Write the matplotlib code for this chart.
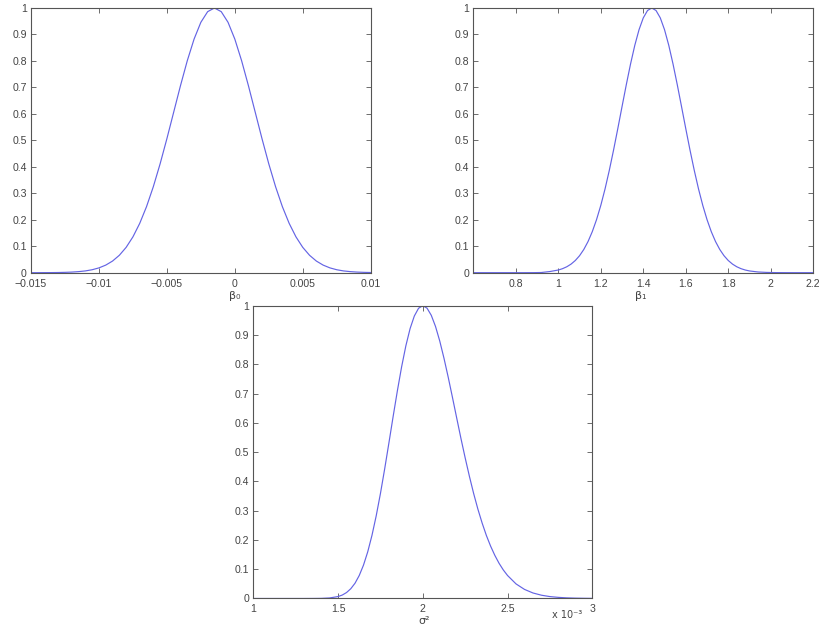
import matplotlib
matplotlib.use("Agg")
import matplotlib.pyplot as plt

plt.rcParams['font.family'] = ['Liberation Sans', 'DejaVu Sans']

# ---- data ----
# beta_0 posterior (normalised to peak = 1)
beta0_x = [-0.0150, -0.0145, -0.0140, -0.0135, -0.0130, -0.0125, -0.0120, -0.0115,
           -0.0110, -0.0105, -0.0100, -0.0095, -0.0090, -0.0085, -0.0080, -0.0075,
           -0.0070, -0.0065, -0.0060, -0.0055, -0.0050, -0.0045, -0.0040, -0.0035,
           -0.0030, -0.0025, -0.0020, -0.0015, -0.0010, -0.0005, 0.0000, 0.0005,
           0.0010, 0.0015, 0.0020, 0.0025, 0.0030, 0.0035, 0.0040, 0.0045,
           0.0050, 0.0055, 0.0060, 0.0065, 0.0070, 0.0075, 0.0080, 0.0085,
           0.0090, 0.0095, 0.0100]
beta0_y = [0.000, 0.000, 0.0002, 0.0003, 0.0006, 0.0012, 0.0022, 0.0039,
           0.0066, 0.0111, 0.0181, 0.0286, 0.0439, 0.0657, 0.0956, 0.1353,
           0.1863, 0.2494, 0.3247, 0.4111, 0.5063, 0.6065, 0.7066, 0.8007,
           0.8825, 0.9460, 0.9862, 1.000, 0.9862, 0.9460, 0.8825, 0.8007,
           0.7066, 0.6065, 0.5063, 0.4111, 0.3247, 0.2494, 0.1863, 0.1353,
           0.0956, 0.0657, 0.0439, 0.0286, 0.0181, 0.0111, 0.0066, 0.0039,
           0.0022, 0.0012, 0.0006]

# beta_1 posterior
beta1_x = [0.60, 0.64, 0.68, 0.72, 0.76, 0.80, 0.84, 0.88, 0.92, 0.96,
           1.00, 1.02, 1.04, 1.06, 1.08, 1.10, 1.12, 1.14, 1.16, 1.18,
           1.20, 1.22, 1.24, 1.26, 1.28, 1.30, 1.32, 1.34, 1.36, 1.38,
           1.40, 1.42, 1.44, 1.46, 1.48, 1.50, 1.52, 1.54, 1.56, 1.58,
           1.60, 1.62, 1.64, 1.66, 1.68, 1.70, 1.72, 1.74, 1.76, 1.78,
           1.80, 1.82, 1.84, 1.86, 1.88, 1.90,
           1.94, 1.98, 2.02, 2.06, 2.10, 2.14, 2.18, 2.20]
beta1_y = [0.0, 0.0, 0.0, 0.0, 0.0, 0.0, 0.0, 0.0001, 0.0006, 0.0042,
           0.0100, 0.0151, 0.0223, 0.0323, 0.0459, 0.0640, 0.0876, 0.1176, 0.1550, 0.2004,
           0.2541, 0.3163, 0.3863, 0.4628, 0.5440, 0.6275, 0.7100, 0.7883, 0.8588, 0.9180,
           0.9627, 0.9905, 1.000, 0.9905, 0.9627, 0.9180, 0.8588, 0.7883, 0.7100, 0.6275,
           0.5440, 0.4628, 0.3863, 0.3163, 0.2541, 0.2004, 0.1550, 0.1176, 0.0876, 0.0640,
           0.0459, 0.0323, 0.0223, 0.0151, 0.0100, 0.0065,
           0.0026, 0.0010, 0.0003, 0.0001, 0.0, 0.0, 0.0, 0.0]

# sigma^2 posterior (x in units of 1e-3)
sigma2_x = [1.00, 1.20, 1.30, 1.35, 1.40, 1.45, 1.50, 1.525, 1.55, 1.575,
            1.60, 1.625, 1.65, 1.675, 1.70, 1.725, 1.75, 1.775, 1.80, 1.825,
            1.85, 1.875, 1.90, 1.925, 1.95, 1.975, 2.00, 2.025, 2.05, 2.075,
            2.10, 2.125, 2.15, 2.175, 2.20, 2.225, 2.25, 2.275, 2.30, 2.325,
            2.35, 2.375, 2.40, 2.425, 2.45, 2.475, 2.50, 2.55, 2.60, 2.65,
            2.70, 2.75, 2.80, 2.85, 2.90, 2.95, 3.00]
sigma2_y = [0.0, 0.0, 0.0, 0.0001, 0.0004, 0.0018, 0.0066, 0.0118, 0.0203, 0.0333,
            0.0521, 0.0786, 0.1139, 0.1593, 0.2155, 0.2822, 0.3584, 0.4426, 0.5313, 0.6219,
            0.7095, 0.7913, 0.8630, 0.9218, 0.9648, 0.9913, 1.000, 0.9915, 0.9671, 0.9290,
            0.8792, 0.8203, 0.7554, 0.6866, 0.6163, 0.5466, 0.4801, 0.4171, 0.3584, 0.3051,
            0.2577, 0.2153, 0.1788, 0.1472, 0.1201, 0.0974, 0.0785, 0.0498, 0.0310, 0.0188,
            0.0112, 0.0065, 0.0038, 0.0021, 0.0012, 0.0007, 0.0004]

yticks = [0, 0.1, 0.2, 0.3, 0.4, 0.5, 0.6, 0.7, 0.8, 0.9, 1]
ytick_labels = ['0', '0.1', '0.2', '0.3', '0.4', '0.5', '0.6', '0.7', '0.8', '0.9', '1']
beta0_ticks = [-0.015, -0.01, -0.005, 0, 0.005, 0.01]
beta0_labels = ['\u22120.015', '\u22120.01', '\u22120.005', '0', '0.005', '0.01']
beta1_ticks = [0.8, 1.0, 1.2, 1.4, 1.6, 1.8, 2.0, 2.2]
beta1_labels = ['0.8', '1', '1.2', '1.4', '1.6', '1.8', '2', '2.2']
sigma2_ticks = [1, 1.5, 2, 2.5, 3]
sigma2_labels = ['1', '1.5', '2', '2.5', '3']

LINE = '#6464e4'
AX = '#555555'
TXT = '#444444'
LABEL_FONT = ['DejaVu Sans']

fig = plt.figure(figsize=(8.19, 6.35), dpi=100)
fig.patch.set_facecolor('white')


def style(ax, xt, xl, xlim):
    ax.set_xlim(*xlim)
    ax.set_ylim(0, 1)
    ax.set_xticks(xt)
    ax.set_xticklabels(xl)
    ax.set_yticks(yticks)
    ax.set_yticklabels(ytick_labels)
    ax.tick_params(direction='in', length=3.5, width=0.6, colors=AX,
                   labelcolor=TXT, labelsize=7.6, top=True, right=True)
    ax.tick_params(axis='x', pad=4.2)
    ax.tick_params(axis='y', pad=3.0)
    for s in ax.spines.values():
        s.set_color(AX)
        s.set_linewidth(0.8)


ax1 = fig.add_axes([0.0379, 0.5706, 0.4147, 0.4168])
ax1.plot(beta0_x, beta0_y, color=LINE, lw=0.85)
style(ax1, beta0_ticks, beta0_labels, (-0.015, 0.01))
ax1.set_xlabel('\u03b2\u2080', fontsize=8, color=TXT, family=LABEL_FONT)
ax1.xaxis.set_label_coords(0.60, -0.068)

ax2 = fig.add_axes([0.5779, 0.5706, 0.4151, 0.4168])
ax2.plot(beta1_x, beta1_y, color=LINE, lw=0.85)
style(ax2, beta1_ticks, beta1_labels, (0.6, 2.2))
ax2.set_xlabel('\u03b2\u2081', fontsize=8, color=TXT, family=LABEL_FONT)
ax2.xaxis.set_label_coords(0.493, -0.068)

ax3 = fig.add_axes([0.3093, 0.0575, 0.4139, 0.4611])
ax3.plot(sigma2_x, sigma2_y, color=LINE, lw=0.85)
style(ax3, sigma2_ticks, sigma2_labels, (1, 3))
ax3.set_xlabel('\u03c3\u00b2', fontsize=8, color=TXT, family=LABEL_FONT)
ax3.xaxis.set_label_coords(0.503, -0.060)
ax3.text(0.925, -0.055, 'x 10\u207b\u00b3', transform=ax3.transAxes,
         fontsize=7, color=TXT, ha='center', va='center', family=LABEL_FONT)

fig.savefig('out.png', dpi=100, facecolor='white')
